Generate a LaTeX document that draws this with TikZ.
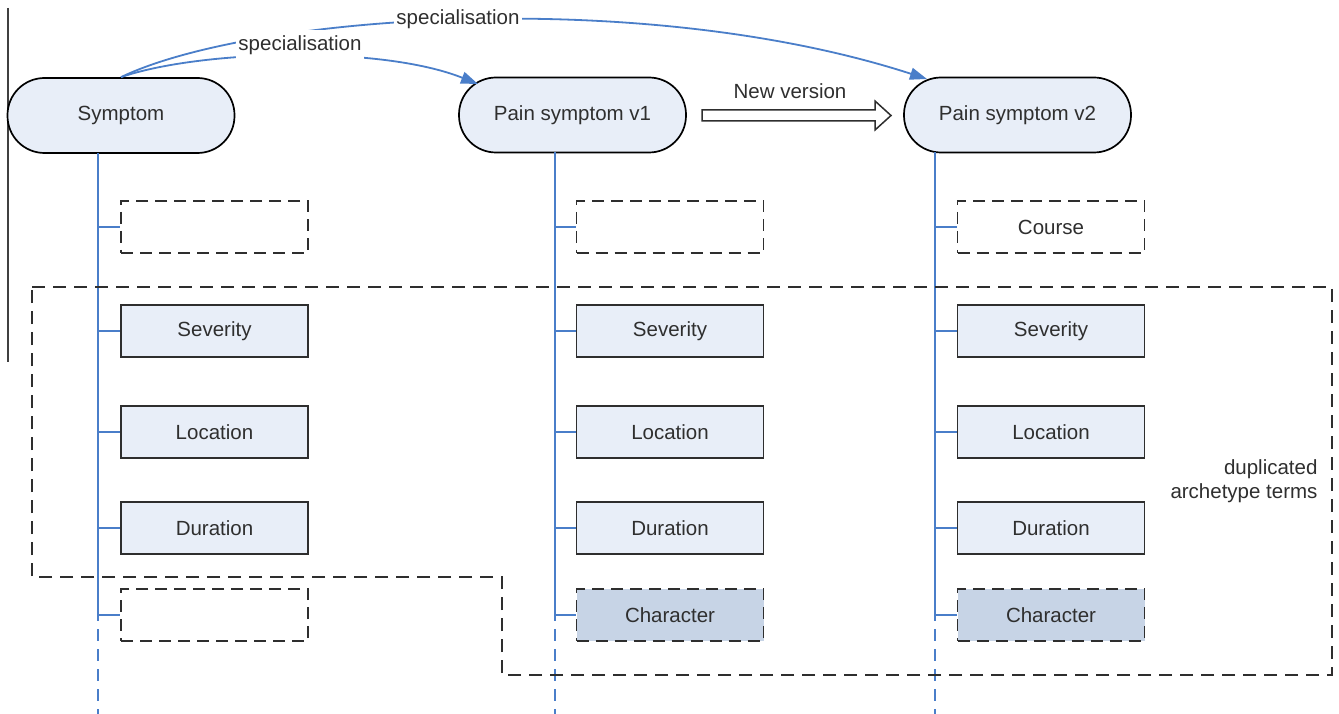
\documentclass[tikz,border=0pt]{standalone}
\usepackage{fontspec}
\setmainfont{Liberation Sans}
\usetikzlibrary{arrows.meta}
\definecolor{bl}{HTML}{4A7EC9}
\definecolor{boxfill}{HTML}{E8EEF8}
\definecolor{chrfill}{HTML}{C7D4E6}
\definecolor{txt}{HTML}{2F2F2F}
\definecolor{edge}{HTML}{2E2E2E}
\begin{document}
\begin{tikzpicture}[x=1pt,y=-1pt,
  font=\fontsize{20.5}{24}\selectfont,
  pill/.style={draw=black, line width=1.7pt, fill=boxfill, rounded corners=37pt,
    minimum width=227pt, minimum height=75pt, text=txt, inner sep=0pt},
  term/.style={draw=edge, line width=1.8pt, fill=boxfill, minimum width=187pt,
    minimum height=52pt, text=txt, inner sep=0pt},
  dashbox/.style={term, fill=white, dash pattern=on 12pt off 7pt},
  chrbox/.style={term, fill=chrfill, dash pattern=on 12pt off 7pt},
  vline/.style={draw=bl, line width=2.2pt},
  vdash/.style={draw=bl, line width=2.2pt, dash pattern=on 12pt off 8pt},
  spec/.style={draw=bl, line width=1.8pt, -{Triangle[length=17pt,width=12pt]}},
  lbl/.style={text=txt, fill=white, inner xsep=2pt, inner ysep=5pt},
  bigdash/.style={draw=edge, line width=1.8pt, dash pattern=on 13pt off 8pt}
]
\useasboundingbox (0,0) rectangle (1339,714);
\fill[white] (0,0) rectangle (1339,714);

% artifact line at left
\draw[line width=1.2pt, black!75] (8,8) -- (8,362);

% top nodes
\node[pill] (sym) at (121,115.5) {Symptom};
\node[pill] (pv1) at (572.5,115) {Pain symptom v1};
\node[pill] (pv2) at (1017.5,115) {Pain symptom v2};

% terms column 1
\node[dashbox] (a1) at (214.5,227) {};
\node[term]    (a2) at (214.5,331) {Severity};
\node[term]    (a3) at (214.5,432) {Location};
\node[term]    (a4) at (214.5,528) {Duration};
\node[dashbox] (a5) at (214.5,615) {};
% column 2
\node[dashbox] (b1) at (670,227) {};
\node[term]    (b2) at (670,331) {Severity};
\node[term]    (b3) at (670,432) {Location};
\node[term]    (b4) at (670,528) {Duration};
\node[chrbox]  (b5) at (670,615) {Character};
% column 3
\node[dashbox] (c1) at (1051,227) {Course};
\node[term]    (c2) at (1051,331) {Severity};
\node[term]    (c3) at (1051,432) {Location};
\node[term]    (c4) at (1051,528) {Duration};
\node[chrbox]  (c5) at (1051,615) {Character};

% vertical spines
\coordinate (v1t) at (98,153);  \coordinate (v1m) at (98,617);  \coordinate (v1b) at (98,714);
\coordinate (v2t) at (555,152); \coordinate (v2m) at (555,617); \coordinate (v2b) at (555,714);
\coordinate (v3t) at (935,152); \coordinate (v3m) at (935,617); \coordinate (v3b) at (935,714);
\draw[vline] (v1t) -- (v1m);
\draw[vline] (v2t) -- (v2m);
\draw[vline] (v3t) -- (v3m);
\draw[vdash] ([yshift=8pt]v1m) -- (v1b);
\draw[vdash] ([yshift=8pt]v2m) -- (v2b);
\draw[vdash] ([yshift=8pt]v3m) -- (v3b);
\foreach \n in {1,...,5}{
  \draw[vline] (a\n.west -| v1t) -- (a\n.west);
  \draw[vline] (b\n.west -| v2t) -- (b\n.west);
  \draw[vline] (c\n.west -| v3t) -- (c\n.west);
}

% duplicated region
\draw[bigdash] (32,287) -- (1332,287) -- (1332,675) -- (502,675) -- (502,577) -- (32,577) -- cycle;
\node[text=txt, align=right, anchor=east] (dup) at (1321,481) {duplicated\\archetype terms};

% specialisation arrows
\coordinate (t1) at (478,84);
\coordinate (t2) at (927,79);
\draw[spec] (sym.north) .. controls (200,50) and (380,45) .. (t1);
\draw[spec] (sym.north) .. controls (250,15) and (640,-14) .. (t2);
\node[lbl] (s1) at (300,45) {specialisation};
\node[lbl] (s2) at (458,19) {specialisation};

% new version arrow
\draw[draw=edge, line width=1.5pt, fill=white, line join=miter]
  (702,110) -- (875,110) -- (875,101) -- (891,115.5) -- (875,130) -- (875,121) -- (702,121) -- cycle;
\node[text=txt] (nv) at (790,91) {New version};
\end{tikzpicture}
\end{document}
